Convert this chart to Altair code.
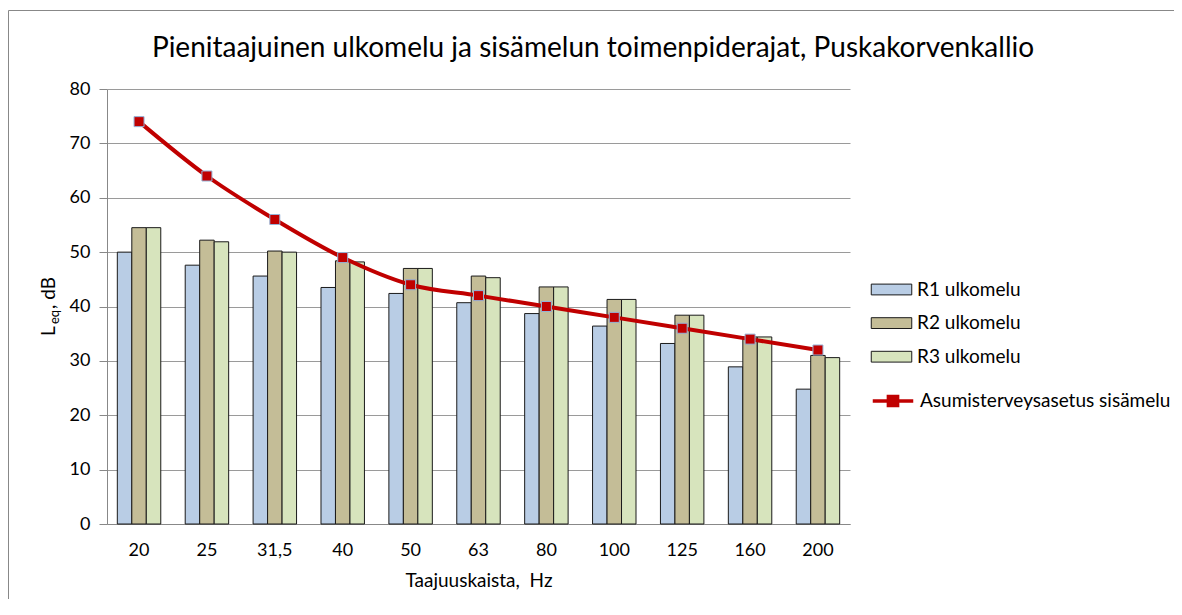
import altair as alt
import pandas as pd

# ---- data ----
bands = ["20", "25", "31,5", "40", "50", "63", "80", "100", "125", "160", "200"]
r1 = [50.0, 47.6, 45.6, 43.5, 42.4, 40.7, 38.7, 36.4, 33.2, 28.9, 24.8]
r2 = [54.5, 52.2, 50.2, 48.4, 47.0, 45.6, 43.6, 41.3, 38.4, 34.4, 31.0]
r3 = [54.5, 51.9, 50.0, 48.2, 47.0, 45.3, 43.6, 41.3, 38.4, 34.4, 30.6]
limit = [74, 64, 56, 49, 44, 42, 40, 38, 36, 34, 32]

series_names = ["R1 ulkomelu", "R2 ulkomelu", "R3 ulkomelu"]
series_colors = ["#B9CDE5", "#C4BD97", "#D7E4BD"]
line_name = "Asumisterveysasetus sisämelu"
line_color = "#C00000"

title_text = "Pienitaajuinen ulkomelu ja sisämelun toimenpiderajat, Puskakorvenkallio"
x_title = "Taajuuskaista,\u00a0 Hz"

rows = []
for name, vals in zip(series_names, [r1, r2, r3]):
    for b, v in zip(bands, vals):
        rows.append({"band": b, "series": name, "value": v})
bars_df = pd.DataFrame(rows)
line_df = pd.DataFrame({"band": bands, "value": limit, "name": line_name})

FONT = "Lato"
W, H = 743, 435

x_enc = alt.X(
    "band:N",
    sort=bands,
    title=x_title,
    scale=alt.Scale(paddingInner=0.36, paddingOuter=0.152),
    axis=alt.Axis(labelAngle=0, ticks=False, labelPadding=17, titlePadding=12,
                  domainColor="#888888", grid=False, titleFontSize=19),
)
y_enc = alt.Y(
    "value:Q",
    title=None,
    scale=alt.Scale(domain=[0, 80], nice=False),
    axis=alt.Axis(values=list(range(0, 81, 10)), tickSize=8, labelPadding=9,
                  tickColor="#888888", domainColor="#888888",
                  gridColor="#9A9A9A", grid=True),
)

bar_path = "M-1.5,-0.4L1.5,-0.4L1.5,0.4L-1.5,0.4Z"
line_path = "M-1.5,0L-0.34,0M0.34,0L1.5,0M-0.34,-0.34L0.34,-0.34L0.34,0.34L-0.34,0.34Z"

bars = alt.Chart(bars_df).mark_bar(stroke="#1a1a1a", strokeWidth=1).encode(
    x=x_enc,
    y=y_enc,
    xOffset=alt.XOffset("series:N", sort=series_names),
    fill=alt.Fill(
        "series:N",
        scale=alt.Scale(domain=series_names, range=series_colors),
        legend=alt.Legend(
            title=None, orient="none", legendX=770.5, legendY=186.5,
            symbolType=bar_path, symbolSize=729, symbolStrokeColor="#1a1a1a",
            symbolStrokeWidth=1, labelFontSize=19, labelOffset=11.5,
            rowPadding=9.6, padding=0, labelFont=FONT, labelColor="#000000",
            labelLimit=400,
        ),
    ),
)

line = alt.Chart(line_df).mark_line(strokeWidth=4, interpolate="monotone").encode(
    x=alt.X("band:N", sort=bands),
    y=alt.Y("value:Q"),
    stroke=alt.Stroke(
        "name:N",
        scale=alt.Scale(domain=[line_name], range=[line_color]),
        legend=alt.Legend(
            title=None, orient="none", legendX=770.5, legendY=296.5,
            symbolType=line_path, symbolSize=729, symbolStrokeWidth=3.5,
            symbolFillColor=line_color, labelFontSize=19, labelOffset=11.5,
            padding=0, labelFont=FONT, labelColor="#000000", labelLimit=400,
        ),
    ),
)

points = alt.Chart(line_df).mark_point(
    shape="square", filled=True, size=100, fill=line_color,
    stroke="#95B3D7", strokeWidth=1, opacity=1,
).encode(
    x=alt.X("band:N", sort=bands),
    y=alt.Y("value:Q"),
)

one = alt.Data(values=[{"k": 1}])
border_top = alt.Chart(one).mark_rule(color="#888888", strokeWidth=1).encode(
    x=alt.value(-98.5), x2=alt.value(1080), y=alt.value(-78.5)
)
border_left = alt.Chart(one).mark_rule(color="#888888", strokeWidth=1).encode(
    x=alt.value(-98.5), y=alt.value(-78.5), y2=alt.value(600)
)

title_mark = alt.Chart(one).mark_text(align="center", baseline="alphabetic",
                                      fontSize=28, font=FONT, color="#000000").encode(
    x=alt.value(486), y=alt.value(-32), text=alt.value(title_text))

yt_L = alt.Chart(one).mark_text(angle=270, align="left", baseline="alphabetic",
                                fontSize=19, font=FONT, color="#000000").encode(
    x=alt.value(-52), y=alt.value(247), text=alt.value("L"))
yt_eq = alt.Chart(one).mark_text(angle=270, align="left", baseline="alphabetic",
                                 fontSize=13, font=FONT, color="#000000").encode(
    x=alt.value(-48), y=alt.value(235), text=alt.value("eq"))
yt_db = alt.Chart(one).mark_text(angle=270, align="left", baseline="alphabetic",
                                 fontSize=19, font=FONT, color="#000000").encode(
    x=alt.value(-52), y=alt.value(220), text=alt.value(", dB"))

chart = alt.layer(
    border_top, border_left, bars, line, points, title_mark, yt_L, yt_eq, yt_db
).resolve_scale(fill="independent", stroke="independent").properties(
    width=W, height=H,
    autosize="none",
    padding={"left": 99, "top": 81, "right": 324, "bottom": 75},
).configure_view(stroke=None).configure_axis(
    labelFont=FONT, titleFont=FONT, labelFontSize=18, titleFontSize=18,
    labelColor="#000000", titleColor="#000000", titleFontWeight="normal",
)

chart.save("out.html", embed_options={"renderer": "svg", "actions": False})
